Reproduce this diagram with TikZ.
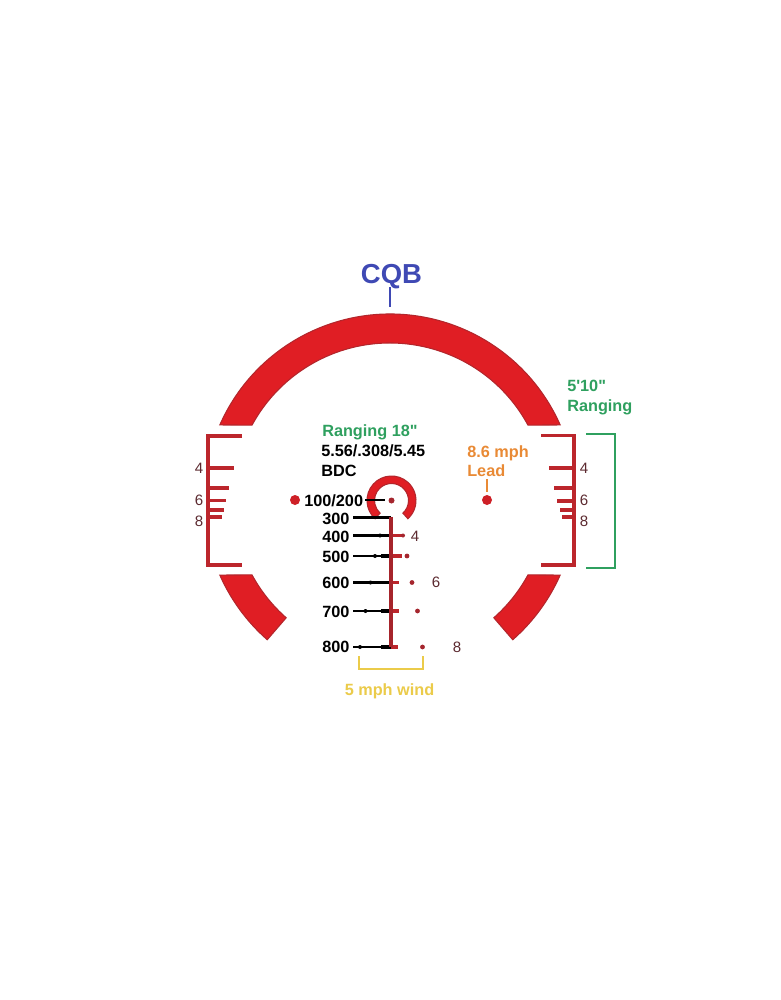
\documentclass[tikz,border=0pt]{standalone}
\usepackage{fontspec}
\usetikzlibrary{calc}
\newfontfamily\lab{Liberation Sans}
\definecolor{redfill}{HTML}{E01E24}
\definecolor{redline}{HTML}{B3262C}
\definecolor{barline}{HTML}{BC262C}
\definecolor{stemred}{HTML}{A6242B}
\definecolor{dotred}{HTML}{A5262E}
\definecolor{numbrown}{HTML}{5C2A30}
\definecolor{cqbblue}{HTML}{3F49B4}
\definecolor{rangegreen}{HTML}{2FA05F}
\definecolor{leadorange}{HTML}{E98A35}
\definecolor{windyellow}{HTML}{EBCB4A}
\tikzset{
  x=0.75pt,y=-0.75pt,
  lbl/.style={inner sep=0pt,anchor=base west,font=\lab\bfseries\fontsize{12.2}{14}\selectfont},
  num/.style={inner sep=0pt,anchor=base,text=numbrown,font=\lab\fontsize{11.3}{13}\selectfont},
  band/.style={fill=redfill,draw=redline,line width=0.8pt},
  bracketline/.style={draw=barline,line width=2.9pt},
  blackline/.style={draw=black,line width=1.6pt},
  thickblack/.style={draw=black,line width=2.5pt},
  stemline/.style={draw=stemred,line width=2.8pt},
  rowbar/.style={draw=barline,line width=2.6pt},
  blackdot/.style={fill=black},
  reddot/.style={fill=dotred},
  greenline/.style={draw=rangegreen,line width=1.2pt},
  windline/.style={draw=windyellow,line width=1.6pt},
}
\begin{document}
\begin{tikzpicture}
\useasboundingbox[fill=white] (0,0) rectangle (781,1000);
\coordinate (ctr) at (390,500);
% main arcs
\path[band] ($(ctr)+(203.8:186)$) arc[start angle=203.8,end angle=336.2,radius=186]
  -- ($(ctr)+(331.5:157)$) arc[start angle=331.5,end angle=208.5,radius=157] -- cycle;
\path[band] ($(ctr)+(156.2:186)$) arc[start angle=156.2,end angle=131.3,radius=186]
  -- ($(ctr)+(131.4:157)$) arc[start angle=131.4,end angle=151.5,radius=157] -- cycle;
\path[band] ($(ctr)+(23.8:186)$) arc[start angle=23.8,end angle=48.7,radius=186]
  -- ($(ctr)+(48.6:157)$) arc[start angle=48.6,end angle=28.5,radius=157] -- cycle;
% left bracket
\draw[bracketline] (242,436) -- (208,436) -- (208,565) -- (242,565);
\foreach \yy/\xx in {468/234,488/229,500.5/225.5,510/223.5,517/222}
  \draw[bracketline] (208,\yy) -- (\xx,\yy);
% right bracket
\draw[bracketline] (541,435.5) -- (574,435.5) -- (574,565) -- (541,565);
\foreach \yy/\xx in {468/549,488/554,501/557,510/559.5,517/561.5}
  \draw[bracketline] (574,\yy) -- (\xx,\yy);
% green bracket
\draw[greenline] (586,434) -- (615,434) -- (615,568) -- (586,568);
% numerals at the brackets
\node[num] (l4) at (199,473.5) {4};
\node[num] (l6) at (199,505.5) {6};
\node[num] (l8) at (199,526.5) {8};
\node[num] (r4) at (584,473.5) {4};
\node[num] (r6) at (584,505.5) {6};
\node[num] (r8) at (584,526.5) {8};
% centre ring
\coordinate (ring) at (391.5,500.5);
\path[band] ($(ring)+(132:24.5)$) arc[start angle=132,end angle=408,radius=24.5]
  -- ($(ring)+(48:17)$) arc[start angle=408,end angle=132,radius=17] -- cycle;
\fill[reddot] (ring) circle[radius=3];
\fill[redfill!70!dotred] (295,500) circle[radius=5];
% stem and rows
\draw[blackline] (365,500) -- (385,500);
\draw[blackline] (353,517.5) -- (391,517.5);
\foreach \yy/\xb/\xr in {535.5/380/403,556/375/401.5,582.5/370.5/399,611/365.5/399,647/360/398}{
  \draw[rowbar] (391,\yy) -- (\xr,\yy);
  \draw[blackline] (353,\yy) -- (391,\yy);
  \draw[thickblack] (381,\yy) -- (391,\yy);
  \fill[blackdot] (\xb,\yy) circle[radius=2];
}
\draw[stemline] (391.3,517) -- (391.3,647);
\foreach \yy/\xd in {556/407,582.5/412,611/417.5,647/422.5}
  \fill[reddot] (\xd,\yy) circle[radius=2.4];
\fill[reddot] (403,535.5) circle[radius=2];
% row labels
\node[lbl] (t12) at (304,506) {100/200};
\node[lbl] (t3) at (322,524) {300};
\node[lbl] (t4) at (322,542) {400};
\node[lbl] (t5) at (322,562) {500};
\node[lbl] (t6) at (322,588) {600};
\node[lbl] (t7) at (322,617) {700};
\node[lbl] (t8) at (322,652) {800};
\node[num] (w4) at (415,541.5) {4};
\node[num] (w6) at (436,587.5) {6};
\node[num] (w8) at (457,652.5) {8};
% text blocks
\node[lbl,text=cqbblue,anchor=base,font=\lab\bfseries\fontsize{20.6}{24}\selectfont] (cqb) at (391.5,283) {CQB};
\coordinate (cqbend) at (390,307);
\draw[cqbblue,line width=1.5pt] (390,287) -- (cqbend);
\node[lbl,text=rangegreen] (rng1) at (322,436.5) {Ranging 18"};
\node[lbl] (bdc1) at (321,456.5) {5.56/.308/5.45};
\node[lbl] (bdc2) at (321,476.5) {BDC};
\node[lbl,text=rangegreen] (rng2a) at (567,391) {5'10"};
\node[lbl,text=rangegreen] (rng2b) at (567,411) {Ranging};
\node[lbl,text=leadorange] (lead1) at (467,457) {8.6 mph};
\node[lbl,text=leadorange] (lead2) at (467,476) {Lead};
\fill[redfill!70!dotred] (487,500) circle[radius=5];
\draw[leadorange,line width=1.5pt] (487,479) -- (487,492);
% wind bracket
\draw[windline] (359,656) -- (359,669) -- (423,669) -- (423,656);
\node[lbl,text=windyellow,anchor=base] (wind) at (389.5,695) {5 mph wind};
\end{tikzpicture}
\end{document}
